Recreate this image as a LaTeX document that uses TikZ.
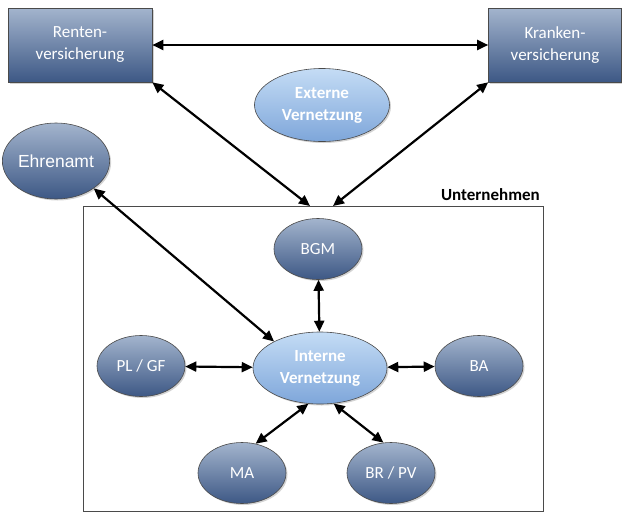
\documentclass[tikz,border=0pt]{standalone}
\usepackage{fontspec}
\setmainfont{Carlito}
\newfontfamily\ehrfont{Liberation Sans}
\usetikzlibrary{arrows.meta,shapes.geometric,shadows}
\definecolor{darktop}{HTML}{A3B4CD}
\definecolor{darkbot}{HTML}{3D5885}
\definecolor{lighttop}{HTML}{C4DCF5}
\definecolor{lightbot}{HTML}{7EA6DA}
\definecolor{rimgray}{HTML}{4A4A4A}
\begin{document}
\begin{tikzpicture}[x=1pt,y=-1pt]
				\tikzstyle{Box} = [rectangle, draw=rimgray, line width=0.6pt, top color=darktop, bottom color=darkbot, text=white, align=center, minimum width=144pt, minimum height=74pt, inner sep=0pt, font=\fontsize{17}{22}\selectfont, drop shadow={opacity=0.35, shadow xshift=1.5pt, shadow yshift=-1.5pt}]
				\tikzstyle{Dark} = [ellipse, draw=rimgray, line width=0.6pt, top color=darktop, bottom color=darkbot, text=white, align=center, minimum width=88pt, minimum height=61pt, inner sep=0pt, font=\fontsize{17}{22}\selectfont, drop shadow={opacity=0.35, shadow xshift=1.5pt, shadow yshift=-1.5pt}]
				\tikzstyle{Light} = [ellipse, draw=rimgray, line width=0.6pt, top color=lighttop, bottom color=lightbot, text=white, align=center, minimum width=134pt, minimum height=72pt, inner sep=0pt, font=\bfseries\fontsize{17}{22}\selectfont, drop shadow={opacity=0.35, shadow xshift=1.5pt, shadow yshift=-1.5pt}]
				\tikzstyle{Link} = [line width=2.2pt, {Triangle[length=11pt,width=10pt]}-{Triangle[length=11pt,width=10pt]}]
				\useasboundingbox (0,0) rectangle (622,515);
				% company frame
				\node (ub) at (313,358.5) [rectangle, draw=rimgray, line width=0.8pt, minimum width=460pt, minimum height=305pt, inner sep=0pt] {};
				\node (ul) [anchor=south east, inner sep=0pt, font=\bfseries\fontsize{17}{20}\selectfont] at (540,201) {Unternehmen};
				\coordinate (u1) at (310,206);
				\coordinate (u2) at (333,206);
				% outside
				\node (rv) at (80,45) [Box] {Renten-\\versicherung};
				\node (kv) at (555,45) [Box, minimum width=133pt] {Kranken-\\versicherung};
				\node (ev) at (322,105) [Light, minimum width=135pt, minimum height=73pt] {Externe\\Vernetzung};
				\node (ea) at (56,161) [Dark, minimum width=94pt, minimum height=76pt, font=\ehrfont\fontsize{17.5}{20}\selectfont] {Ehrenamt};
				% inside
				\node (iv) at (320,368) [Light] {Interne\\Vernetzung};
				\node (bgm) at (318,249) [Dark] {BGM};
				\node (pl) at (141,366) [Dark] {PL / GF};
				\node (ba) at (479,366) [Dark] {BA};
				\node (ma) at (242,473) [Dark] {MA};
				\node (br) at (391,473) [Dark] {BR / PV};
				\draw [Link] (rv) to (kv);
				\draw [Link] (rv.south east) to (u1);
				\draw [Link] (kv.south west) to (u2);
				\draw [Link] (ea.-36) to (iv.150);
				\draw [Link] (bgm) to (iv);
				\draw [Link] (pl) to (iv);
				\draw [Link] (iv) to (ba);
				\draw [Link] (ma.65) to (iv.252);
				\draw [Link] (iv.291) to (br.104);
\end{tikzpicture}
\end{document}
